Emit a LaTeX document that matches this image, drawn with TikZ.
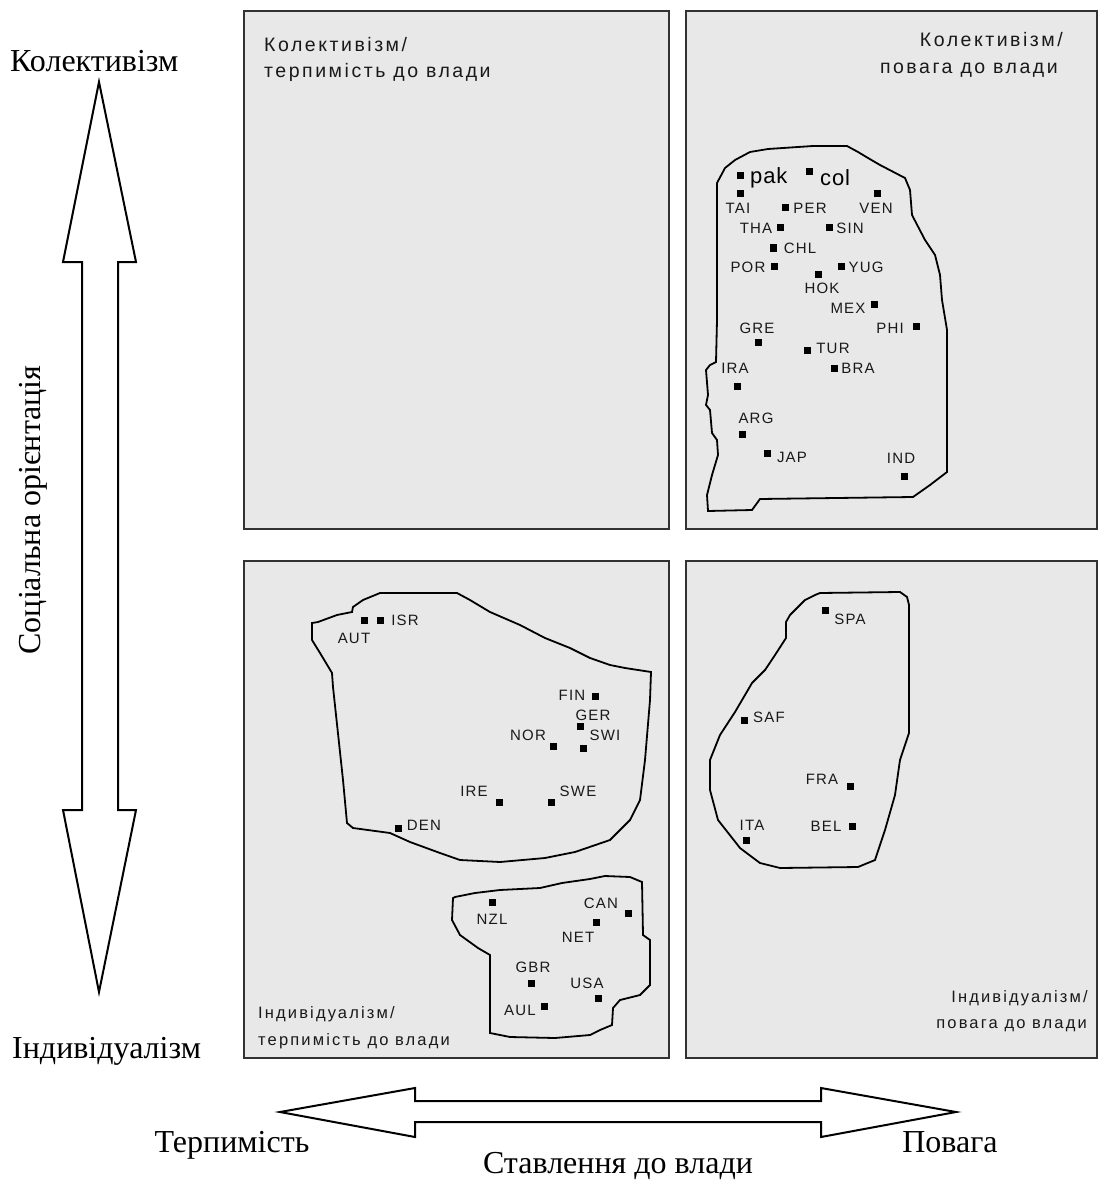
\documentclass[tikz,border=0pt]{standalone}
\usepackage{fontspec}
\setmainfont{Liberation Serif}
\newfontfamily\pixfont[LetterSpace=13]{Liberation Sans}
\newfontfamily\codefont[LetterSpace=8]{Liberation Sans}
\newfontfamily\bigcodefont[LetterSpace=4]{Liberation Sans}
\definecolor{boxline}{RGB}{50,50,50}
\definecolor{boxfill}{RGB}{232,232,232}
\newcommand\cpt[5]{\node[sq] (s#1) at (#2,#3) {}; \node[code] (l#1) at (#4,#5) {#1};}
\begin{document}
\begin{tikzpicture}[x=1pt,y=-1pt,
  quad/.style={draw=boxline, line width=2.2pt, fill=boxfill},
  blob/.style={draw=black, line width=1.8pt, line join=miter},
  bigarrow/.style={draw=black, line width=2pt, fill=white, line join=miter},
  sq/.style={rectangle, fill=black, minimum size=7pt, inner sep=0pt, outer sep=0pt},
  code/.style={font=\codefont\fontsize{15}{17}\selectfont, inner sep=0pt, text=black!90},
  qlab/.style={font=\pixfont\fontsize{19.5}{22}\selectfont, inner sep=0pt, text=black!90},
  qlabs/.style={font=\pixfont\fontsize{16.5}{18}\selectfont, inner sep=0pt, text=black!90},
  serif/.style={font=\fontsize{32}{38}\selectfont, inner sep=0pt}
]
\useasboundingbox (0,0) rectangle (1104,1182);

% quadrant boxes
\draw[quad] (244,11) rectangle (669,529);
\draw[quad] (686,11) rectangle (1097,529);
\draw[quad] (244,561) rectangle (669,1058);
\draw[quad] (686,561) rectangle (1097,1058);

% quadrant labels
\node[qlab, anchor=base west] (tl1) at (264,52) {Колективізм/};
\node[qlab, anchor=base west] (tl2) at (264,78) {терпимість до влади};
\node[qlab, anchor=base east] (tr1) at (1063,47) {Колективізм/};
\node[qlab, anchor=base east] (tr2) at (1058,74) {повага до влади};
\node[qlabs, anchor=base west] (bl1) at (258,1018) {Індивідуалізм/};
\node[qlabs, anchor=base west] (bl2) at (258,1045) {терпимість до влади};
\node[qlabs, anchor=base east] (br1) at (1088,1002) {Індивідуалізм/};
\node[qlabs, anchor=base east] (br2) at (1087,1028) {повага до влади};

% cluster outlines
\draw[blob] (717,183) -- (725,168) -- (735,160) -- (750,152) -- (768,149) -- (813,146) -- (847,146) -- (858,152) -- (868,158) -- (880,165) -- (905,178) -- (910,190) -- (912,215) -- (925,240) -- (935,255) -- (940,275) -- (942,300) -- (947,330) -- (947,472) -- (930,485) -- (913,497) -- (760,499) -- (752,510) -- (708,511) -- (707,495) -- (712,475) -- (718,455) -- (717,440) -- (712,433) -- (710,410) -- (706,405) -- (708,395) -- (706,370) -- (710,365) -- (716,362) -- (717,320) -- cycle;

\draw[blob] (380,593) -- (457,593) -- (470,600) -- (490,612) -- (520,625) -- (545,638) -- (570,648) -- (590,658) -- (610,665) -- (625,668) -- (651,672) -- (650,700) -- (645,760) -- (640,800) -- (630,820) -- (610,840) -- (575,852) -- (545,858) -- (500,862) -- (460,860) -- (440,853) -- (410,842) -- (390,833) -- (353,828) -- (347,823) -- (343,780) -- (333,687) -- (332,673) -- (320,653) -- (312,640) -- (312,623) -- (318,622) -- (337,615) -- (352,612) -- (353,607) -- (363,600) -- cycle;

\draw[blob] (455,897) -- (475,893) -- (500,890) -- (540,888) -- (562,883) -- (590,879) -- (605,876) -- (630,877) -- (642,882) -- (643,935) -- (650,940) -- (650,985) -- (640,995) -- (620,1000) -- (613,1008) -- (612,1025) -- (600,1030) -- (590,1035) -- (555,1038) -- (510,1037) -- (490,1033) -- (490,955) -- (478,948) -- (460,935) -- (452,920) -- (453,898) -- cycle;

\draw[blob] (820,593) -- (900,592) -- (907,597) -- (909,605) -- (909,733) -- (900,760) -- (895,795) -- (885,830) -- (875,860) -- (858,867) -- (780,868) -- (760,863) -- (740,848) -- (718,820) -- (710,790) -- (710,760) -- (720,735) -- (735,712) -- (745,695) -- (752,683) -- (765,670) -- (775,655) -- (786,638) -- (786,622) -- (790,615) -- (805,600) -- (815,595) -- cycle;

% countries: collectivism / respect
\node[sq] (spak) at (740,176) {};
\node[font=\bigcodefont\fontsize{22}{24}\selectfont, inner sep=0pt, anchor=base west] (lpak) at (750,184) {pak};
\node[sq] (scol) at (809,172) {};
\node[font=\bigcodefont\fontsize{22}{24}\selectfont, inner sep=0pt, anchor=base west] (lcol) at (820,186) {col};
\cpt{TAI}{740}{194}{738}{208}
\cpt{PER}{785}{208}{810}{208}
\cpt{VEN}{877}{194}{876}{208}
\cpt{THA}{780}{228}{756}{228}
\cpt{SIN}{829}{228}{850}{228}
\cpt{CHL}{773}{248}{800}{248}
\cpt{POR}{774}{266}{748}{267}
\cpt{YUG}{841}{266}{866}{267}
\cpt{HOK}{818}{274}{822}{288}
\cpt{MEX}{874}{304}{848}{308}
\cpt{GRE}{758}{342}{757}{328}
\cpt{PHI}{916}{326}{890}{328}
\cpt{TUR}{807}{350}{833}{348}
\cpt{BRA}{834}{368}{858}{368}
\cpt{IRA}{737}{386}{735}{368}
\cpt{ARG}{742}{434}{756}{418}
\cpt{JAP}{767}{453}{792}{457}
\cpt{IND}{904}{476}{901}{458}

% individualism / tolerance
\cpt{AUT}{364}{620}{354}{638}
\cpt{ISR}{380}{620}{405}{620}
\cpt{FIN}{595}{696}{572}{695}
\cpt{GER}{580}{726}{593}{715}
\cpt{SWI}{583}{748}{605}{735}
\cpt{NOR}{553}{746}{528}{735}
\cpt{IRE}{499}{802}{474}{791}
\cpt{SWE}{551}{802}{578}{791}
\cpt{DEN}{398}{828}{424}{825}
\cpt{NZL}{492}{902}{492}{919}
\cpt{CAN}{628}{913}{601}{903}
\cpt{NET}{596}{922}{578}{937}
\cpt{GBR}{531}{983}{533}{967}
\cpt{USA}{598}{998}{587}{983}
\cpt{AUL}{544}{1006}{520}{1010}

% individualism / respect
\cpt{SPA}{825}{610}{850}{619}
\cpt{SAF}{744}{720}{769}{717}
\cpt{FRA}{850}{786}{822}{779}
\cpt{BEL}{852}{826}{826}{826}
\cpt{ITA}{746}{840}{752}{825}

% vertical double arrow
\draw[bigarrow] (99,82) -- (136,262) -- (118,262) -- (118,810) -- (136,810) -- (99,992) -- (63,810) -- (82,810) -- (82,262) -- (63,262) -- cycle;
% horizontal double arrow
\draw[bigarrow] (280,1112) -- (415,1088) -- (415,1101) -- (821,1101) -- (821,1088) -- (956,1112) -- (821,1137) -- (821,1122) -- (415,1122) -- (415,1137) -- cycle;

% axis labels
\node[serif, anchor=base west] (coll) at (10,72) {Колективізм};
\node[serif, anchor=base west] (indiv) at (12,1058) {Індивідуалізм};
\node[serif, rotate=90] (soc) at (33,510) {Соціальна орієнтація};
\node[serif, anchor=base] (terp) at (232,1152) {Терпимість};
\node[serif, anchor=base] (povaha) at (950,1152) {Повага};
\node[serif, anchor=base] (stavl) at (618,1173) {Ставлення до влади};
\end{tikzpicture}
\end{document}
